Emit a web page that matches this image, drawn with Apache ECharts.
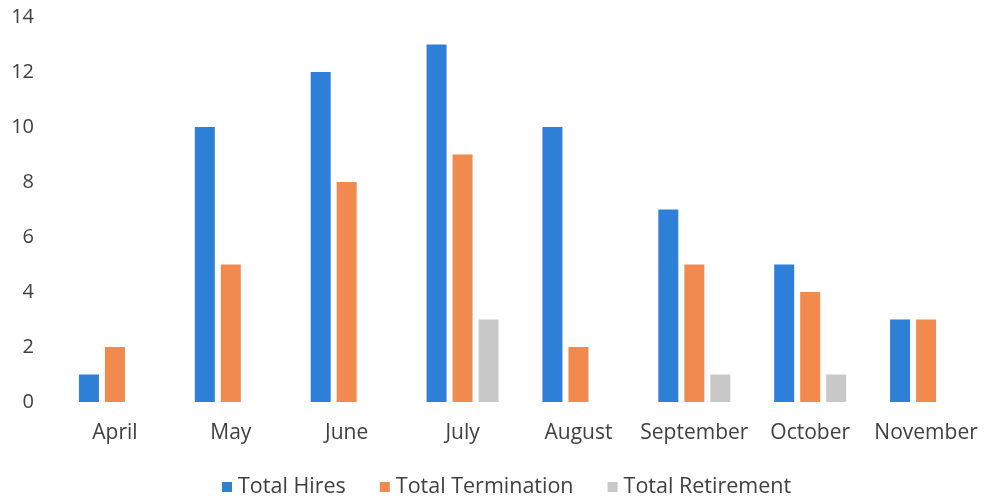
<!DOCTYPE html>
<html>
<head>
<meta charset="utf-8">
<script src="https://cdn.jsdelivr.net/npm/echarts@6/dist/echarts.min.js"></script>
<style>
  html, body { margin: 0; padding: 0; background: #fff; }
  #chart { width: 984px; height: 501px; }
</style>
</head>
<body>
<div id="chart"></div>
<script>
const months = ['April', 'May', 'June', 'July', 'August', 'September', 'October', 'November']
const hires = [1, 10, 12, 13, 10, 7, 5, 3]
const terminations = [2, 5, 8, 9, 2, 5, 4, 3]
const retirements = [0, 0, 0, 3, 0, 1, 1, 0]
const yTicks = [0, 2, 4, 6, 8, 10, 12, 14]

const font = 'Open Sans'
const textColor = '#404040'

const chart = echarts.init(document.getElementById('chart'))
chart.setOption({
  animation: false,
  color: ['#2e7fd8', '#f08a4f', '#c8c8c8'],
  grid: {
    left: 57,
    width: 929,
    top: 17,
    bottom: 99,
  },
  legend: {
    top: 471,
    left: 217,
    itemWidth: 10,
    itemHeight: 10,
    itemGap: 34,
    icon: 'rect',
    textStyle: {
      fontFamily: font,
      fontSize: 21.5,
      color: textColor,
      padding: [0, 0, 0, 1],
    },
  },
  xAxis: {
    type: 'category',
    data: months,
    axisLine: { show: false },
    axisTick: { show: false },
    axisLabel: {
      interval: 0,
      fontFamily: font,
      fontSize: 21,
      color: textColor,
      margin: 21,
    },
  },
  yAxis: {
    type: 'value',
    min: yTicks[0],
    max: yTicks[yTicks.length - 1],
    interval: 2,
    splitLine: { show: false },
    axisLine: { show: false },
    axisTick: { show: false },
    axisLabel: {
      fontFamily: font,
      fontSize: 20,
      color: textColor,
      margin: 23,
    },
  },
  series: [
    {
      name: 'Total Hires',
      type: 'bar',
      data: hires,
      barWidth: 20,
      barGap: '30%',
    },
    {
      name: 'Total Termination',
      type: 'bar',
      data: terminations,
      barWidth: 20,
      barGap: '30%',
    },
    {
      name: 'Total Retirement',
      type: 'bar',
      data: retirements,
      barWidth: 20,
      barGap: '30%',
    },
  ],
})
</script>
</body>
</html>
